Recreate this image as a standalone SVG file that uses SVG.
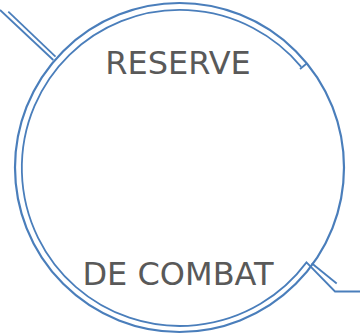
<svg xmlns="http://www.w3.org/2000/svg" width="360" height="334" viewBox="0 0 360 334">
<style>
.ln{fill:none;stroke:#4a7ebb;stroke-width:1.8;stroke-linejoin:miter}
.outer{fill:none;stroke:#4a7ebb;stroke-width:2.2}
.lbl{font-family:"DejaVu Sans",sans-serif;font-size:32px;fill:#595959;text-anchor:middle}
</style>
<rect width="360" height="334" fill="#ffffff"/>
<g id="ring">
<circle class="outer" cx="179.5" cy="167.5" r="164.5"/>
</g>
<g id="connectors">
<path class="ln" d="M 301.2 66.8 A 158 158 0 1 0 306.5 262.4 L 335 291.5 L 360 291.5"/>
<path class="ln" d="M 300 69 L 307 63.3"/>
<path class="ln" d="M 0 10 L 53.3 60"/>
<path class="ln" d="M 8.3 11.7 L 55.5 56.7"/>
<path class="ln" d="M 311.7 263.3 L 336.7 283.5"/>
</g>
<g id="labels">
<text class="lbl" x="178" y="73.5">RESERVE</text>
<text class="lbl" x="178" y="285">DE COMBAT</text>
</g>
</svg>
